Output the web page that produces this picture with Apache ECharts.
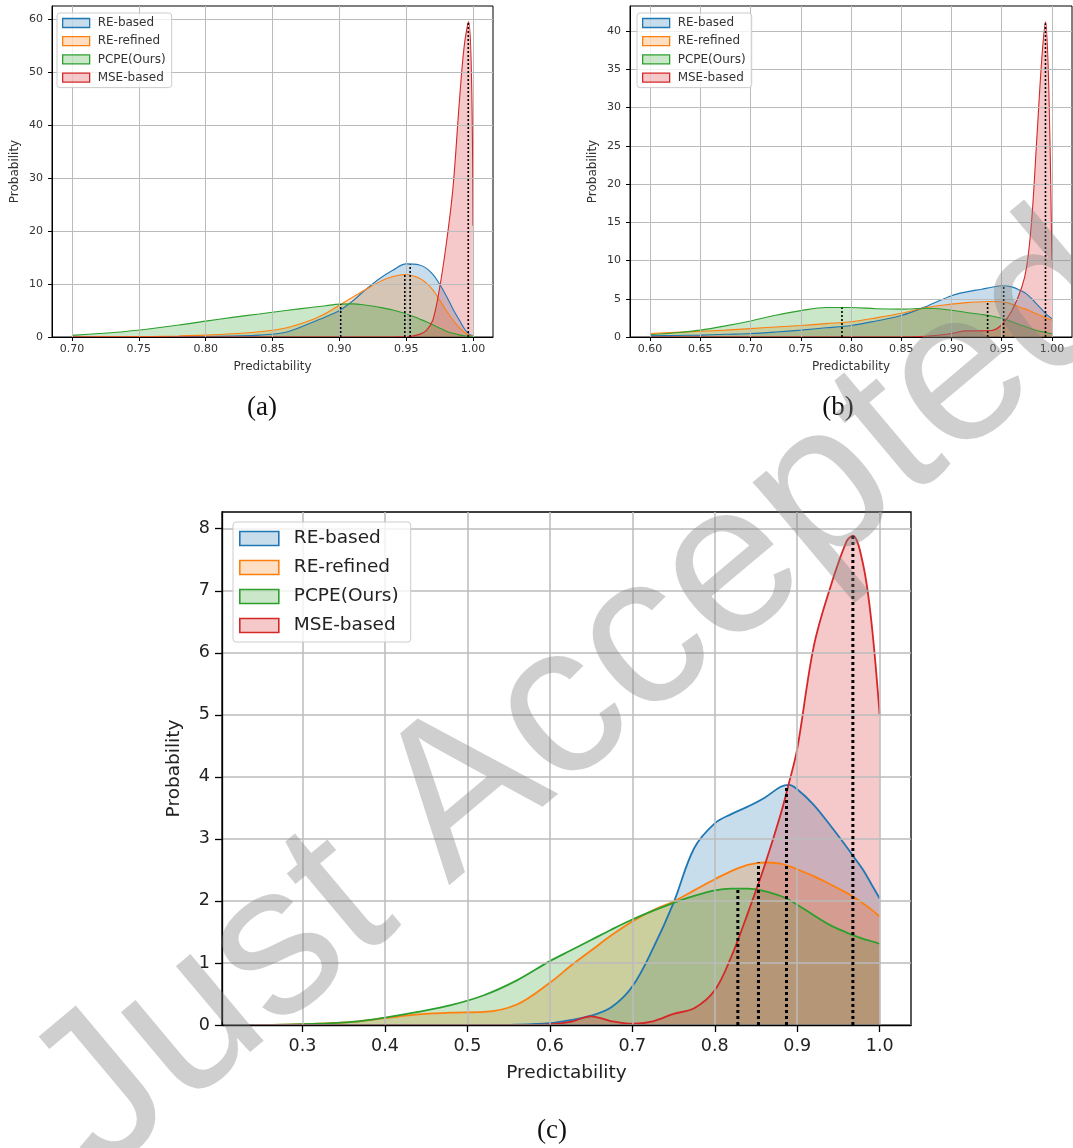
<!DOCTYPE html>
<html><head><meta charset="utf-8">
<script src="https://cdn.jsdelivr.net/npm/echarts/dist/echarts.min.js"></script>
<style>html,body{margin:0;padding:0;background:#fff}#c{width:1073px;height:1148px}</style>
</head><body><div id="c"></div>
<script>
// ---------- data ----------
const seriesNames = ['RE-based', 'RE-refined', 'PCPE(Ours)', 'MSE-based'];

// panel (a)
const xA = [0.70,0.72,0.74,0.76,0.78,0.80,0.82,0.84,0.86,0.88,0.89,0.90,0.91,0.92,0.93,0.94,0.95,0.96,0.965,0.97,0.975,0.98,0.985,0.99,0.9935,0.9968,0.999,1.00];
const aREbased   = [0,0,0.01,0.02,0.05,0.1,0.2,0.35,0.9,2.8,3.8,5.0,6.8,9.0,11.0,12.6,13.8,13.6,13.0,11.8,10.0,7.8,5.3,3.1,1.6,0.6,0.3,0.2];
const aRErefined = [0,0.02,0.05,0.1,0.2,0.35,0.6,1.0,1.7,3.3,4.5,6.0,7.5,9.0,10.4,11.4,11.8,11.1,10.2,8.9,7.0,5.0,3.2,1.7,0.9,0.4,0.2,0.15];
const aPCPE      = [0.3,0.65,1.05,1.6,2.25,3.0,3.7,4.35,5.0,5.6,5.9,6.2,6.25,6.0,5.6,5.1,4.4,3.4,2.9,2.3,1.7,1.1,0.7,0.4,0.25,0.15,0.1,0.08];
const aMSE       = [0,0,0,0,0,0,0,0,0,0,0,0,0,0,0,0.01,0.05,0.5,1.2,3.2,9.2,17.5,28,45,55,59.5,48,21];
const medA  = [0.953, 0.949, 0.901, 0.9965];
const medAH = [13.7, 11.8, 6.2, 59.3];
const xTicksA = [0.70,0.75,0.80,0.85,0.90,0.95,1.00];
const yTicksA = [0,10,20,30,40,50,60];

// panel (b)
const xB = [0.60,0.625,0.65,0.675,0.70,0.725,0.75,0.775,0.80,0.825,0.85,0.875,0.90,0.915,0.93,0.94,0.95,0.96,0.97,0.975,0.98,0.985,0.99,0.9936,0.997,1.00];
const bREbased   = [0.15,0.2,0.25,0.35,0.45,0.65,0.9,1.2,1.5,2.1,2.8,4.0,5.4,5.9,6.25,6.5,6.7,6.55,6.0,5.6,5.0,4.3,3.6,3.1,2.7,2.4];
const bRErefined = [0.45,0.6,0.75,0.9,1.1,1.3,1.5,1.75,2.0,2.5,3.1,3.85,4.3,4.5,4.6,4.65,4.6,4.3,3.8,3.6,3.3,3.0,2.7,2.5,2.35,2.2];
const bPCPE      = [0.3,0.55,0.9,1.45,2.1,2.85,3.45,3.85,3.85,3.7,3.65,3.75,3.5,3.2,2.95,2.75,2.45,2.0,1.5,1.3,1.05,0.85,0.7,0.6,0.5,0.45];
const bMSE       = [0,0,0,0,0,0,0,0,0,0,0,0.1,0.45,0.8,0.8,0.85,1.6,3.4,6.5,9.3,15.5,26,36.5,41.2,32,10];
const medB  = [0.952, 0.936, 0.791, 0.9936];
const medBH = [6.7, 4.6, 3.85, 41];
const xTicksB = [0.60,0.65,0.70,0.75,0.80,0.85,0.90,0.95,1.00];
const yTicksB = [0,5,10,15,20,25,30,35,40];

// panel (c)
const xC = [0.24,0.28,0.32,0.36,0.40,0.44,0.48,0.52,0.56,0.60,0.625,0.65,0.675,0.70,0.725,0.75,0.775,0.80,0.82,0.84,0.86,0.88,0.89,0.90,0.92,0.94,0.96,0.9675,0.98,0.99,1.00];
const cREbased   = [0,0,0,0,0,0,0,0,0.005,0.03,0.08,0.15,0.29,0.62,1.23,1.97,2.85,3.25,3.4,3.52,3.66,3.84,3.87,3.8,3.55,3.22,2.87,2.73,2.5,2.27,2.04];
const cRErefined = [0,0.005,0.02,0.05,0.11,0.17,0.2,0.21,0.33,0.68,0.95,1.2,1.45,1.67,1.85,1.99,2.17,2.35,2.48,2.58,2.62,2.6,2.56,2.51,2.4,2.27,2.13,2.07,1.96,1.86,1.75];
const cPCPE      = [0,0.005,0.02,0.05,0.12,0.21,0.32,0.48,0.72,1.03,1.2,1.37,1.54,1.70,1.84,1.97,2.08,2.17,2.2,2.2,2.16,2.08,2.02,1.94,1.77,1.61,1.49,1.45,1.39,1.35,1.31];
const cMSE       = [0,0,0,0,0,0,0,0,0,0.01,0.05,0.14,0.06,0.02,0.06,0.18,0.27,0.56,1.1,1.8,2.55,3.4,3.9,4.45,6.1,7.05,7.8,7.89,7.42,6.5,5.0];
const medC  = [0.887, 0.853, 0.828, 0.9675];
const medCH = [3.87, 2.62, 2.2, 7.89];
const xTicksC = [0.3,0.4,0.5,0.6,0.7,0.8,0.9,1.0];
const yTicksC = [0,1,2,3,4,5,6,7,8];

const watermark = 'Just Accepted';
const captions = ['(a)', '(b)', '(c)'];

// ---------- styling / layout ----------
const colors = ['#1f77b4', '#ff7f0e', '#2ca02c', '#d62728'];
const FONT = '"DejaVu Sans", sans-serif';
function rgba(hex, a) {
  const n = parseInt(hex.slice(1), 16);
  return 'rgba(' + (n >> 16) + ',' + ((n >> 8) & 255) + ',' + (n & 255) + ',' + a + ')';
}
const panels = [
  { x: xA, vals: [aREbased, aRErefined, aPCPE, aMSE], med: medA, medH: medAH, xt: xTicksA, yt: yTicksA,
    grid: {left: 52, top: 6, width: 441, height: 331}, xr: [0.685, 1.015], yr: [0, 62.45], dec: 2,
    lw: 1.1, dotW: 1.6, dot: [2, 2], tick: 11, name: 12, tickLen: 4, lblM: 7, xGap: 24, yGap: 31,
    gridW: 1, axW: 1, col: '#333' },
  { x: xB, vals: [bREbased, bRErefined, bPCPE, bMSE], med: medB, medH: medBH, xt: xTicksB, yt: yTicksB,
    grid: {left: 630, top: 6, width: 442, height: 331}, xr: [0.58, 1.02], yr: [0, 43.27], dec: 2,
    lw: 1.1, dotW: 1.6, dot: [2, 2], tick: 11, name: 12, tickLen: 4, lblM: 7, xGap: 24, yGap: 31,
    gridW: 1, axW: 1, col: '#333' },
  { x: xC, vals: [cREbased, cRErefined, cPCPE, cMSE], med: medC, medH: medCH, xt: xTicksC, yt: yTicksC,
    grid: {left: 222, top: 512, width: 689, height: 513}, xr: [0.2024, 1.038], yr: [0, 8.27], dec: 1,
    lw: 1.8, dotW: 3, dot: [3, 3], tick: 17.5, name: 18.5, tickLen: 7, lblM: 12, xGap: 39, yGap: 38,
    gridW: 1.5, axW: 1.3, col: '#222' }
];

const grids = [], xAxes = [], yAxes = [], series = [];
panels.forEach((p, i) => {
  grids.push(Object.assign({show: true, borderColor: '#000', borderWidth: p.axW, backgroundColor: 'transparent'}, p.grid));
  const common = {
    gridIndex: i, type: 'value', z: 1.5,
    axisLine: {show: true, onZero: false, lineStyle: {color: '#000', width: p.axW}},
    axisTick: {show: true, length: p.tickLen, lineStyle: {color: '#000', width: p.axW}},
    splitLine: {show: true, lineStyle: {color: '#bbbbbb', width: p.gridW}},
    nameLocation: 'middle',
    nameTextStyle: {fontFamily: FONT, fontSize: p.name, color: p.col}
  };
  xAxes.push(Object.assign({}, common, {
    min: p.xr[0], max: p.xr[1], name: 'Predictability', nameGap: p.xGap,
    axisTick: Object.assign({}, common.axisTick, {customValues: p.xt}),
    axisLabel: {customValues: p.xt, margin: p.lblM, fontFamily: FONT, fontSize: p.tick, color: p.col,
      formatter: v => Number(v).toFixed(p.dec)}
  }));
  yAxes.push(Object.assign({}, common, {
    min: p.yr[0], max: p.yr[1], name: 'Probability', nameGap: p.yGap,
    axisTick: Object.assign({}, common.axisTick, {customValues: p.yt}),
    axisLabel: {customValues: p.yt, margin: i === 2 ? 12 : 9, fontFamily: FONT, fontSize: p.tick, color: p.col,
      formatter: v => String(Math.round(v))}
  }));
  p.vals.forEach((v, k) => {
    series.push({
      type: 'line', name: seriesNames[k], xAxisIndex: i, yAxisIndex: i,
      data: p.x.map((x, j) => [x, v[j]]), smooth: 0.35, symbol: 'none', silent: true, z: 1,
      lineStyle: {color: colors[k], width: p.lw}, itemStyle: {color: colors[k]},
      areaStyle: {color: colors[k], opacity: 0.25}
    });
  });
  p.med.forEach((m, k) => {
    series.push({
      type: 'line', xAxisIndex: i, yAxisIndex: i, data: [[m, 0], [m, p.medH[k]]],
      symbol: 'none', silent: true, z: 4,
      lineStyle: {color: '#000', width: p.dotW, type: p.dot}
    });
  });
});

function legendItems(bw) {
  return seriesNames.map((n, k) => ({
    name: n, icon: 'rect',
    itemStyle: {color: rgba(colors[k], 0.25), borderColor: colors[k], borderWidth: bw}
  }));
}
const legendBase = {
  orient: 'vertical', selectedMode: false, backgroundColor: 'rgba(255,255,255,0.8)',
  borderColor: '#cccccc', borderWidth: 1, borderRadius: 3
};
const legends = [
  Object.assign({}, legendBase, {left: 57, top: 13, itemWidth: 27, itemHeight: 9, itemGap: 6.2, padding: [4, 6, 4, 5],
    textStyle: {fontFamily: FONT, fontSize: 12, color: '#333', padding: [0, 0, 0, 3]}, data: legendItems(1.3)}),
  Object.assign({}, legendBase, {left: 637, top: 13, itemWidth: 27, itemHeight: 9, itemGap: 6.2, padding: [4, 6, 4, 5],
    textStyle: {fontFamily: FONT, fontSize: 12, color: '#333', padding: [0, 0, 0, 3]}, data: legendItems(1.3)}),
  Object.assign({}, legendBase, {left: 233, top: 522, itemWidth: 39, itemHeight: 14, itemGap: 10, padding: [7, 12, 7, 6],
    textStyle: {fontFamily: FONT, fontSize: 18.5, color: '#222', padding: [0, 0, 0, 10]}, data: legendItems(1.6)})
];

const capPos = [[262, 408], [838, 408], [552, 1131]];
const graphics = captions.map((t, i) => ({
  type: 'text', x: capPos[i][0], y: capPos[i][1], z: 50,
  style: {text: t, font: '27px "Liberation Serif", serif', fill: '#111',
    align: 'center', verticalAlign: 'middle', textAlign: 'center', textVerticalAlign: 'middle'}
}));
graphics.push({
  type: 'text', x: 580, y: 698, rotation: 40 * Math.PI / 180, z: 100, silent: true,
  style: {text: watermark, font: 'normal 215px "Liberation Sans", sans-serif', fill: 'rgba(128,128,128,0.38)',
    align: 'center', verticalAlign: 'middle', textAlign: 'center', textVerticalAlign: 'middle'}
});

const chart = echarts.init(document.getElementById('c'), null, {renderer: 'canvas'});
chart.setOption({
  animation: false,
  backgroundColor: '#fff',
  grid: grids, xAxis: xAxes, yAxis: yAxes, series: series,
  legend: legends,
  graphic: {elements: graphics}
});
</script>
</body></html>
